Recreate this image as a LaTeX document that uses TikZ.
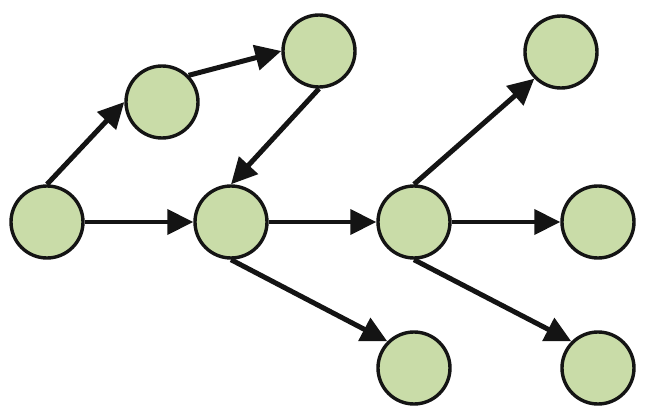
\documentclass[tikz,border=0pt]{standalone}
\usepackage{tikz}
\usetikzlibrary{arrows.meta}
\usetikzlibrary{positioning}
\definecolor{nodegreen}{RGB}{201,220,168}
\definecolor{edgeblack}{RGB}{20,20,20}
\begin{document}
\begin{tikzpicture}[x=0.5pt,y=0.5pt]
\tikzstyle{state}=[circle, draw=edgeblack, line width=1.7pt, fill=nodegreen, 
minimum size=36pt, inner sep=0pt]
\tikzstyle{flow}=[draw=edgeblack, line width=1.9pt, 
-{Triangle[length=13pt,width=12.5pt]}]
\tikzstyle{jump}=[flow, line width=2.5pt]
	\useasboundingbox (0,0) rectangle (650,-418);
	
	% middle row
	\node [state] (A) at (47,-222) {};
	\node [state, on grid, right = 92pt of A] (D) {};
	\node [state, on grid, right = 91.5pt of D] (E) {};
	\node [state, on grid, right = 92pt of E] (G) {};
	
	% bottom row
	\node [state, on grid, below = 73pt of E] (H) {};
	\node [state, on grid, below = 73pt of G] (I) {};
	
	% top
	\node [state] (B) at (162,-102) {};
	\node [state] (C) at (319,-51) {};
	\node [state] (F) at (561,-52) {};
	
	% upper loop
	\draw [jump] (A.north) -- (B.west);
	\draw [jump] (B.45) -- (C.west);
	\draw [jump] (C.south) -- (D.north);
	
	% straight on
	\draw [flow] (A.east) -- (D.west);
	\draw [flow] (D.east) -- (E.west);
	\draw [flow] (E.east) -- (G.west);
	
	% branches
	\draw [jump] (D.south) -- (H.north west);
	\draw [jump] (E.north) -- (F.south west);
	\draw [jump] (E.south) -- (I.north west);
\end{tikzpicture}
\end{document}
